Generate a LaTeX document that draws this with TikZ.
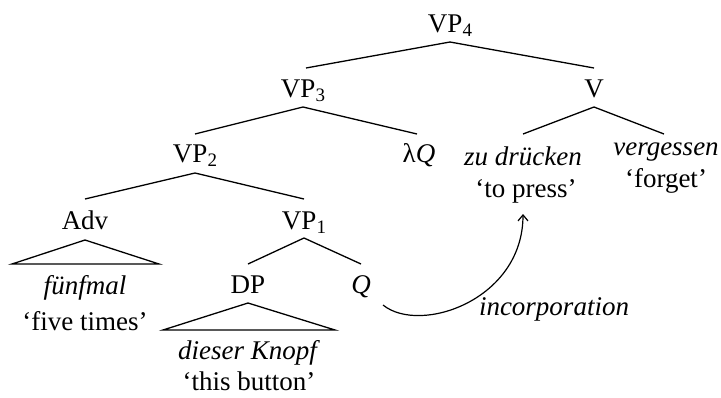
\documentclass[tikz,border=0pt]{standalone}
\usepackage{fontspec}
\setmainfont{Liberation Serif}
\usetikzlibrary{calc,arrows.meta}
\newcommand\sbs[1]{\raisebox{-4pt}{\fontsize{19}{19}\selectfont #1}}
\begin{document}
\begin{tikzpicture}[x=1pt,y=-1pt,
  lbl/.style={anchor=base,inner sep=0pt,font=\fontsize{27}{32}\selectfont},
  edge/.style={line width=1.3pt},
  tri/.style={line width=1.3pt,line join=miter}]
\useasboundingbox (0,0) rectangle (721,397);
% nodes
\node[lbl] (vp4) at (450,32) {VP\sbs{4}};
\node[lbl] (vp3) at (303,97) {VP\sbs{3}};
\node[lbl] (v) at (594,97) {V};
\node[lbl] (vp2) at (195,162) {VP\sbs{2}};
\node[lbl] (lq) at (419,162) {λ\textit{Q}};
\node[lbl] (zu) at (523,165) {\textit{zu drücken}};
\node[lbl] (zug) at (526,197) {‘to press’};
\node[lbl] (verg) at (666,155) {\textit{vergessen}};
\node[lbl] (vergg) at (666,187) {‘forget’};
\node[lbl] (adv) at (85,229) {Adv};
\node[lbl] (vp1) at (304,229) {VP\sbs{1}};
\node[lbl] (fuenf) at (85,294) {\textit{fünfmal}};
\node[lbl] (fuenfg) at (85,330) {‘five times’};
\node[lbl] (dp) at (248,293) {DP};
\node[lbl] (q) at (361,293) {\textit{Q}};
\node[lbl] (dies) at (249,359) {\textit{dieser Knopf}};
\node[lbl] (diesg) at (249,390) {‘this button’};
\node[lbl] (inc) at (554,315) {\textit{incorporation}};
% edges
\draw[edge] ($(vp3.base)+(3,-29)$) -- ($(vp4.base)+(0,10)$) -- ($(v.base)+(0,-29)$);
\draw[edge] ($(vp2.base)+(0,-28)$) -- ($(vp3.base)+(0,10)$) -- ($(lq.base)+(-2,-28)$);
\draw[edge] ($(zu.base)+(0,-31)$) -- ($(v.base)+(0,10)$) -- ($(verg.base)+(-2,-21)$);
\draw[edge] ($(adv.base)+(0,-30)$) -- ($(vp2.base)+(0,11)$) -- ($(vp1.base)+(0,-30)$);
\draw[edge] ($(dp.base)+(0,-29)$) -- ($(vp1.base)+(0,9)$) -- ($(q.base)+(0,-29)$);
% triangles
\draw[tri] ($(adv.base)+(0,11)$) -- ($(adv.base)+(-73,35)$) -- ($(adv.base)+(74,35)$) -- cycle;
\draw[tri] ($(dp.base)+(0,10)$) -- ($(dp.base)+(-85,37)$) -- ($(dp.base)+(87,37)$) -- cycle;
% movement arrow
\draw[line width=1.2pt,-{Straight Barb[length=6pt,width=10pt]}] ($(q.base)+(22,12)$) .. controls +(37,30) and +(0,86) .. ($(zug.base)+(-3,17)$);
\end{tikzpicture}
\end{document}
